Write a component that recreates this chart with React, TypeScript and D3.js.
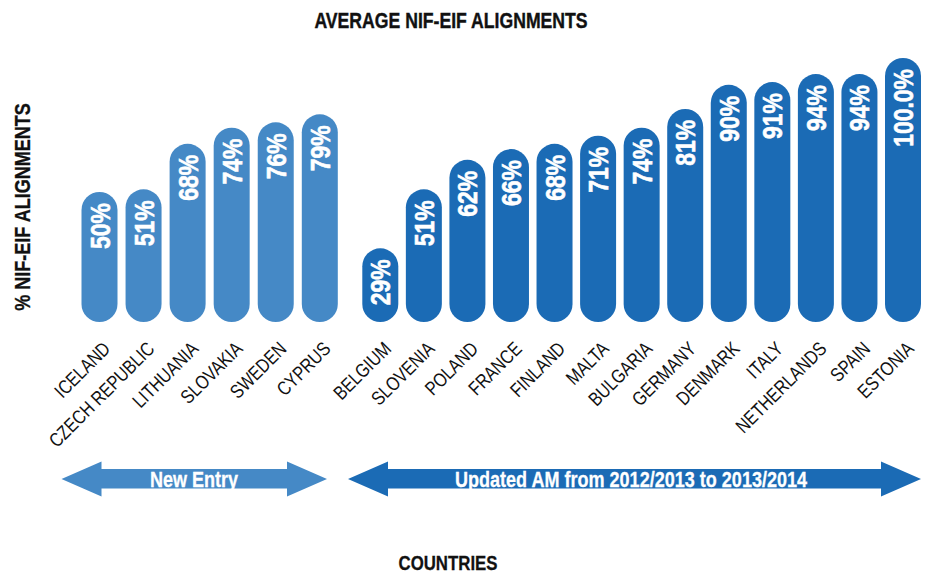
import React from "react";
import * as d3 from "d3";

// ---- data ----
const newEntryCountries = ["ICELAND", "CZECH REPUBLIC", "LITHUANIA", "SLOVAKIA", "SWEDEN", "CYPRUS"];
const newEntryValues = [50, 51, 68, 74, 76, 79];
const updatedCountries = [
  "BELGIUM", "SLOVENIA", "POLAND", "FRANCE", "FINLAND", "MALTA", "BULGARIA",
  "GERMANY", "DENMARK", "ITALY", "NETHERLANDS", "SPAIN", "ESTONIA",
];
const updatedValues = [29, 51, 62, 66, 68, 71, 74, 81, 90, 91, 94, 94, 100];
const groupLabels = ["New Entry", "Updated AM from 2012/2013 to 2013/2014"];
const title = "AVERAGE NIF-EIF ALIGNMENTS";
const yTitle = "% NIF-EIF ALIGNMENTS";
const xTitle = "COUNTRIES";

// ---- layout ----
const W = 930;
const H = 574;
const FONT = "'Liberation Sans', Arial, sans-serif";
const NARROW = 0.82;
const LIGHT = "#4589c6";
const DARK = "#1b6bb5";
const BAR_W = 36;
const BASE_Y = 322;

const y = d3.scaleLinear().domain([0, 100]).range([326, 58]);
const xLeft = d3.scalePoint<string>().domain(newEntryCountries).range([99.5, 319.8]);
const xRight = d3.scalePoint<string>().domain(updatedCountries).range([380.3, 903]);

const fmt = (v: number) => (v === 100 ? d3.format(".1f")(v) + "%" : v + "%");

function T({ x, y: ty, rot = 0, anchor = "middle", size, bold = false, fill = "#111", heavy = 0, children }: any) {
  return (
    <text
      transform={`translate(${x},${ty}) rotate(${rot}) scale(${NARROW},1)`}
      textAnchor={anchor}
      fontFamily={FONT}
      fontWeight={bold ? "bold" : "normal"}
      fontSize={size}
      fill={fill}
      stroke={heavy ? fill : "none"}
      strokeWidth={heavy}
    >
      {children}
    </text>
  );
}

function arrowPath(x0: number, x1: number) {
  const yc = 479, head = 40, hTop = 461.5, hBot = 496.5, sTop = 469, sBot = 488.5;
  const p = d3.path();
  p.moveTo(x0, yc);
  p.lineTo(x0 + head, hTop);
  p.lineTo(x0 + head, sTop);
  p.lineTo(x1 - head, sTop);
  p.lineTo(x1 - head, hTop);
  p.lineTo(x1, yc);
  p.lineTo(x1 - head, hBot);
  p.lineTo(x1 - head, sBot);
  p.lineTo(x0 + head, sBot);
  p.lineTo(x0 + head, hBot);
  p.closePath();
  return p.toString();
}

function Group({ countries, values, x, color }: { countries: string[]; values: number[]; x: d3.ScalePoint<string>; color: string }) {
  return (
    <g>
      {countries.map((c, i) => {
        const cx = x(c)!;
        const top = y(values[i]);
        return (
          <g key={c}>
            <rect x={cx - BAR_W / 2} y={top} width={BAR_W} height={BASE_Y - top} rx={BAR_W / 2} ry={BAR_W / 2} fill={color} />
            <T x={cx + 10} y={top + 11} rot={-90} anchor="end" size={28} bold fill="#fff" heavy={0.6}>
              {fmt(values[i])}
            </T>
            <T x={cx + 12} y={350} rot={-45} anchor="end" size={19.5} fill="#111">
              {c}
            </T>
          </g>
        );
      })}
    </g>
  );
}

export default function App() {
  return (
    <svg width={W} height={H} style={{ display: "block", position: "absolute", left: 0, top: 0 }}>
      <rect width={W} height={H} fill="#fff" />
      <T x={451} y={28} size={21.5} bold heavy={0.4}>{title}</T>
      <T x={29.5} y={207} rot={-90} size={22} bold heavy={0.3}>{yTitle}</T>
      <Group countries={newEntryCountries} values={newEntryValues} x={xLeft} color={LIGHT} />
      <Group countries={updatedCountries} values={updatedValues} x={xRight} color={DARK} />
      <path d={arrowPath(61.5, 327)} fill={LIGHT} />
      <path d={arrowPath(348, 921)} fill={DARK} />
      <T x={194} y={486.5} size={22} bold fill="#fff" heavy={0.3}>{groupLabels[0]}</T>
      <T x={631} y={486.5} size={22} bold fill="#fff" heavy={0.3}>{groupLabels[1]}</T>
      <T x={448} y={569.5} size={20.5} bold heavy={0.3}>{xTitle}</T>
    </svg>
  );
}
